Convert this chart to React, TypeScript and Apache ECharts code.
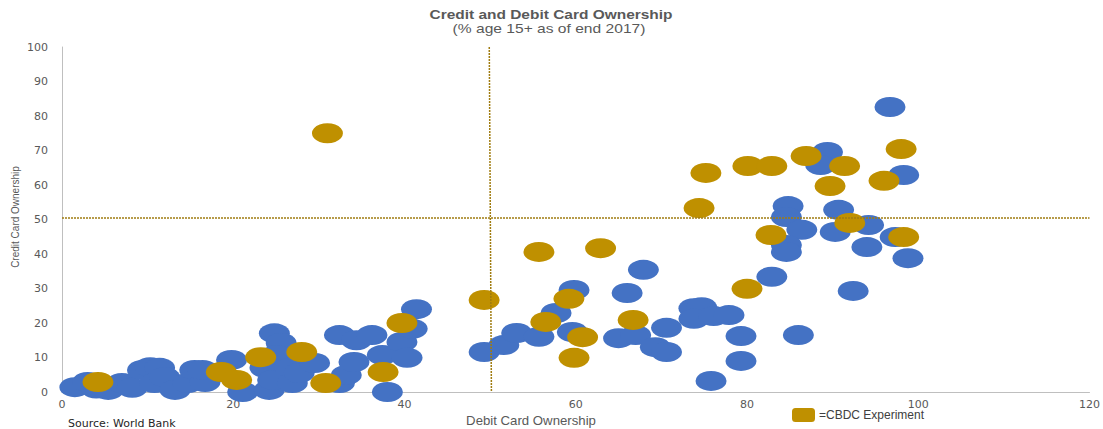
import React, { useEffect, useRef } from "react";
import * as echarts from "echarts";

const TITLE = "Credit and Debit Card Ownership";
const SUBTITLE = "(% age 15+ as of end 2017)";
const X_NAME = "Debit Card Ownership";
const Y_NAME = "Credit Card Ownership";
const SOURCE = "Source: World Bank";
const CBDC_NAME = "=CBDC Experiment";

const X_TICKS = { min: 0, max: 120, interval: 20 };
const Y_TICKS = { min: 0, max: 100, interval: 10 };

const DEBIT_THRESHOLD = 50;
const CREDIT_THRESHOLD = 50.5;

// [debit %, credit %]
const otherCountries: [number, number][] = [
  [1.5, 1.4], [3, 2.9], [4, 1.0], [5.4, 0.6], [7, 2.6], [8.2, 1.2], [9.4, 6.4], [10.3, 7.2],
  [11.4, 7], [10.8, 2.6], [12, 4.3], [13.2, 0.6], [14.7, 2.6], [15.5, 6.4], [16.7, 2.9], [16.4, 6.4],
  [19.8, 9.3], [21.1, 0], [23.7, 7], [24.2, 0.6], [24.6, 3.5], [24.8, 17], [25.6, 14.2], [25, 10.7],
  [26.6, 7], [26.9, 2.6], [27.7, 5.5], [29.5, 8.4], [32.4, 16.5], [32.4, 2.6], [33.2, 4.9], [34.1, 8.7],
  [34.4, 15], [36.2, 16.5], [37.4, 10.7], [38, 0], [39.7, 14.5], [40.3, 9.9], [40.9, 18.3], [41.4, 24],
  [49.3, 11.6], [51.6, 13.6], [53.1, 17.1], [55.7, 16], [57.7, 22.9], [59.8, 29.6], [59.6, 17.4],
  [65, 15.6], [66, 28.7], [67.9, 35.4], [67, 16.5], [69.3, 13], [70.6, 11.6], [70.6, 18.6],
  [73.8, 24.3], [74.7, 24.6], [73.8, 21.2], [76.1, 22], [77.9, 22.3], [75.8, 3.2], [79.3, 9],
  [79.3, 16.2], [86, 16.5], [82.9, 33.4], [92.4, 29.3],
  [96.7, 82.6], [89.4, 69.6], [88.6, 65.8], [98.3, 62.9], [84.8, 53.9], [84.6, 50.7], [86.4, 47],
  [84.6, 42.6], [84.6, 40.6], [90.7, 52.8], [90.3, 46.4], [94.2, 48.4], [94, 42], [97.3, 44.9],
  [98.8, 38.8],
];

const cbdcCountries: [number, number][] = [
  [4.2, 2.9], [31, 75], [18.6, 5.8], [20.4, 3.5], [23.2, 10.1], [28, 11.6], [30.8, 2.6],
  [37.5, 5.8], [39.7, 20], [49.3, 26.7], [55.7, 40.6], [56.5, 20.3], [59.2, 27], [59.8, 9.9],
  [60.8, 15.9], [62.9, 41.7], [66.7, 20.9], [74.4, 53.3], [75.2, 63.5], [80.1, 65.5], [82.9, 65.5],
  [80, 29.9], [82.8, 45.5], [86.9, 68.4], [89.7, 59.7], [91.4, 65.5], [92, 49], [96, 61.2],
  [98, 70.4], [98.3, 44.9],
];

export default function App() {
  const ref = useRef<HTMLDivElement>(null);
  useEffect(() => {
    if (!ref.current) return;
    const chart = echarts.init(ref.current, undefined, { renderer: "svg" });
    const axisFont = "DejaVu Sans";
    const textFont = "Liberation Sans";
    chart.setOption({
      animation: false,
      backgroundColor: "#ffffff",
      legend: {
        data: [CBDC_NAME],
        left: 792,
        top: 408,
        padding: 0,
        itemWidth: 23,
        itemHeight: 14,
        itemGap: 4,
        icon: "roundRect",
        textStyle: { fontFamily: textFont, fontSize: 12, color: "#404040", padding: [0, 0, 0, -1] },
      },
      graphic: [
        {
          type: "text",
          x: 551,
          y: 15,
          scaleX: 1.29,
          style: {
            text: TITLE, fontFamily: textFont, fontWeight: "bold", fontSize: 12, fill: "#595959",
            align: "center", verticalAlign: "middle",
          },
        },
        {
          type: "text",
          x: 549,
          y: 29,
          scaleX: 1.3,
          style: {
            text: SUBTITLE, fontFamily: textFont, fontSize: 12, fill: "#595959",
            align: "center", verticalAlign: "middle",
          },
        },
        {
          type: "text",
          x: 531,
          y: 421,
          scaleX: 1.1,
          style: {
            text: X_NAME, fontFamily: textFont, fontSize: 12, fill: "#595959",
            align: "center", verticalAlign: "middle",
          },
        },
        {
          type: "text",
          x: 15,
          y: 217,
          rotation: Math.PI / 2,
          style: {
            text: Y_NAME, fontFamily: textFont, fontSize: 10, fill: "#595959",
            align: "center", verticalAlign: "middle",
          },
        },
        {
          type: "text",
          x: 68,
          y: 423,
          style: {
            text: SOURCE, fontFamily: axisFont, fontSize: 11, fill: "#262626",
            align: "left", verticalAlign: "middle",
          },
        },
      ],
      grid: { left: 62, right: 11, top: 47, bottom: 37 },
      xAxis: {
        type: "value",
        min: X_TICKS.min,
        max: X_TICKS.max,
        interval: X_TICKS.interval,
        axisLine: { show: true, lineStyle: { color: "#bfbfbf", width: 1 } },
        axisTick: { show: false },
        splitLine: { show: false },
        axisLabel: { fontFamily: axisFont, fontSize: 11, color: "#595959", margin: 7 },
      },
      yAxis: {
        type: "value",
        min: Y_TICKS.min,
        max: Y_TICKS.max,
        interval: Y_TICKS.interval,
        axisLine: { show: true, lineStyle: { color: "#bfbfbf", width: 1 } },
        axisTick: { show: false },
        splitLine: { show: false },
        axisLabel: { fontFamily: axisFont, fontSize: 11, color: "#595959", margin: 14 },
      },
      series: [
        {
          name: "Other",
          type: "scatter",
          data: otherCountries,
          symbol: "circle",
          symbolSize: [31, 20],
          itemStyle: { color: "#4472C4", opacity: 1 },
          clip: false,
          markLine: {
            silent: true,
            symbol: "none",
            label: { show: false },
            lineStyle: { color: "#A07C10", type: [2, 1], width: 1.5 },
            data: [
              [{ coord: [DEBIT_THRESHOLD - 0.1, Y_TICKS.max] }, { coord: [DEBIT_THRESHOLD + 0.15, Y_TICKS.min] }],
              { yAxis: CREDIT_THRESHOLD },
            ],
          },
        },
        {
          name: CBDC_NAME,
          type: "scatter",
          data: cbdcCountries,
          symbol: "circle",
          symbolSize: [31, 20],
          itemStyle: { color: "#BF9000", opacity: 1 },
          clip: false,
        },
      ],
    });
    return () => chart.dispose();
  }, []);
  return (
    <div
      ref={ref}
      style={{ position: "fixed", left: 0, top: 0, width: 1103, height: 429, background: "#fff" }}
    />
  );
}
